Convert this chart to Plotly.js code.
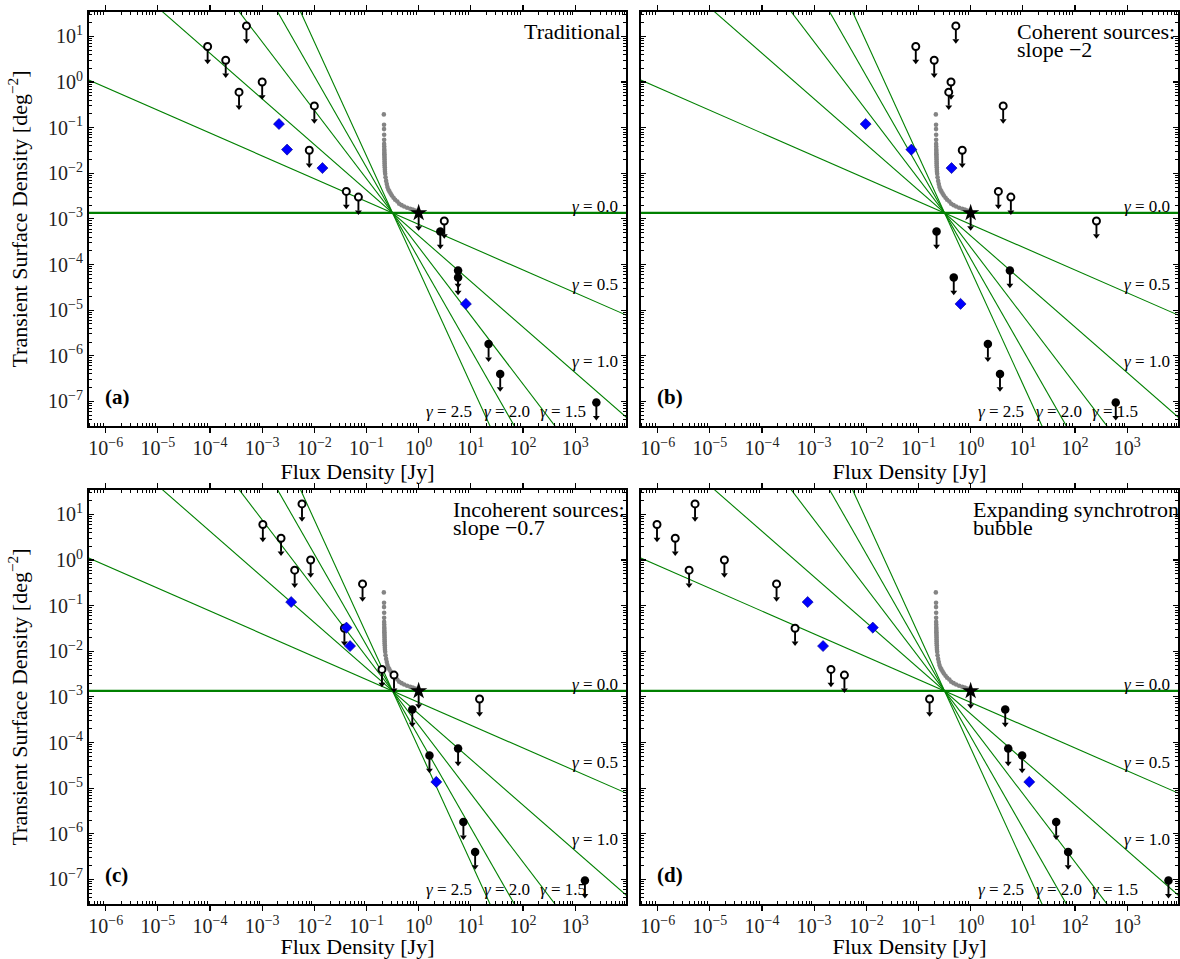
<!DOCTYPE html>
<html><head><meta charset="utf-8">
<script src="https://cdn.plot.ly/plotly-3.0.1.min.js"></script>
<style>html,body{margin:0;padding:0;background:#fff}#chart{width:1180px;height:959px}</style>
</head><body><div id="chart"></div><script>
// ---------- data ----------
const gammas = [0, 0.5, 1.0, 1.5, 2.0, 2.5];
const gammaLabels = ['<i>γ</i> = 0.0', '<i>γ</i> = 0.5', '<i>γ</i> = 1.0', '<i>γ</i> = 1.5', '<i>γ</i> = 2.0', '<i>γ</i> = 2.5'];
const pivotS = 0.316, pivotN = 1.35e-3;

const grayS = [0.215,0.217,0.217,0.218,0.218,0.218,0.219,
  0.219,0.22,0.22,0.22,0.221,0.221,0.222,0.222,0.223,0.223,0.224,0.225,0.226,0.228,
  0.232,0.238,0.245,0.252,0.262,0.275,0.29,0.306,0.33,0.354,0.39,0.423,0.47,0.527,0.6,0.687,0.77,0.857,0.93,0.99];
const grayN = [0.195,0.116,0.093,0.070,0.054,0.044,0.0387,
  0.034,0.031,0.028,0.026,0.024,0.022,0.020,0.018,0.0165,0.015,0.0135,0.012,0.0108,0.0097,
  0.0082,0.0068,0.0058,0.0050,0.0044,0.0040,0.0036,0.00326,0.0029,0.00263,0.0024,0.00214,0.002,0.00187,0.00175,0.00167,0.0016,0.00153,0.00148,0.00143];

const openN   = [6.0, 3.0, 17, 0.6, 1.0, 0.30, 0.032, 0.004, 0.003, 9e-4];
const openS_a = [9e-5, 2.0e-4, 5.0e-4, 3.6e-4, 1.0e-3, 0.010, 8.0e-3, 0.041, 0.070, 3.1];
const openS_b = [0.0887, 0.20, 0.52, 0.38, 0.42, 4.2, 0.69, 3.4, 5.9, 258];
const openS_c = [1.03e-3, 2.3e-3, 5.8e-3, 4.2e-3, 8.5e-3, 0.084, 0.0377, 0.198, 0.337, 14.7];
const openS_d = [9.7e-7, 2.17e-6, 5.2e-6, 4.0e-6, 1.9e-5, 1.9e-4, 4.3e-4, 2.1e-3, 3.8e-3, 0.163];

const filledN   = [5.3e-4, 7.4e-5, 5.2e-5, 1.8e-6, 4.0e-7, 9.4e-8];
const filledS_a = [2.6, 5.7, 5.7, 21.9, 36.6, 2550];
const filledS_b = [0.222, 5.65, 0.474, 2.14, 3.65, 605];
const filledS_c = [0.755, 5.7, 1.61, 7.2, 12.1, 1540];
const filledS_d = [4.6, 5.25, 9.7, 43.6, 74, 6200];

const detN   = [0.12, 0.033, 0.013, 1.37e-5];
const detS_a = [2.1e-3, 3.0e-3, 0.0143, 8.05];
const detS_b = [9.7e-3, 0.073, 0.43, 0.64];
const detS_c = [3.6e-3, 0.0413, 0.0484, 2.18];
const detS_d = [7.5e-4, 0.0133, 1.48e-3, 13.3];

const starS = [1.0], starN = [1.35e-3];

const panelLetters = ['(a)', '(b)', '(c)', '(d)'];
const panelNotes = [['Traditional'], ['Coherent sources:', 'slope −2'], ['Incoherent sources:', 'slope −0.7'], ['Expanding synchrotron', 'bubble']];

const xTickVals = [1e-6,1e-5,1e-4,1e-3,1e-2,1e-1,1e0,1e1,1e2,1e3];
const xTickText = ['10<sup>−6</sup>','10<sup>−5</sup>','10<sup>−4</sup>','10<sup>−3</sup>','10<sup>−2</sup>','10<sup>−1</sup>','10<sup>0</sup>','10<sup>1</sup>','10<sup>2</sup>','10<sup>3</sup>'];
const yTickVals = [1e-7,1e-6,1e-5,1e-4,1e-3,1e-2,1e-1,1e0,1e1];
const yTickText = ['10<sup>−7</sup>','10<sup>−6</sup>','10<sup>−5</sup>','10<sup>−4</sup>','10<sup>−3</sup>','10<sup>−2</sup>','10<sup>−1</sup>','10<sup>0</sup>','10<sup>1</sup>'];

// ---------- layout constants ----------
const FONT = 'Liberation Serif, Times New Roman, serif';
const xRange = [-6.32, 3.975], yRange = [-7.54, 1.535];
const W = 1180, H = 959, M = {l: 89, r: 2, t: 12, b: 55};
const plotW = W - M.l - M.r, plotH = H - M.t - M.b;
const panelWpx = 537, panelHpx = 414;
const decPerPx = (yRange[1] - yRange[0]) / panelHpx;
const stemFactor = Math.pow(10, -13.5 * decPerPx);
const headFactor = Math.pow(10, -14.8 * decPerPx);

const panels = [
  {open: openS_a, filled: filledS_a, det: detS_a},
  {open: openS_b, filled: filledS_b, det: detS_b},
  {open: openS_c, filled: filledS_c, det: detS_c},
  {open: openS_d, filled: filledS_d, det: detS_d}
];

const xDomL = [0, panelWpx / plotW], xDomR = [1 - panelWpx / plotW, 1];
const yDomT = [1 - panelHpx / plotH, 1], yDomB = [0, panelHpx / plotH];

const traces = [];
const annotations = [];
const layout = {
  width: W, height: H, margin: M, showlegend: false,
  paper_bgcolor: '#fff', plot_bgcolor: '#fff',
  font: {family: FONT, color: '#000', size: 18}
};

function minorVals(lo, hi) {
  const v = [];
  for (let d = lo; d <= hi; d++) for (let k = 2; k <= 9; k++) v.push(k * Math.pow(10, d));
  return v;
}

panels.forEach((p, i) => {
  const n = i + 1;
  const xa = n === 1 ? 'x' : 'x' + n, ya = n === 1 ? 'y' : 'y' + n;
  const xk = n === 1 ? 'xaxis' : 'xaxis' + n, yk = n === 1 ? 'yaxis' : 'yaxis' + n;
  const left = (i % 2 === 0), top = (i < 2);

  layout[xk] = {
    type: 'log', range: xRange, domain: left ? xDomL : xDomR, anchor: ya,
    tickmode: 'array', tickvals: xTickVals, ticktext: xTickText,
    ticks: 'outside', ticklen: 5, tickwidth: 1.2, tickcolor: '#000', ticklabelstandoff: -2,
    minor: {tickmode: 'array', tickvals: minorVals(-7, 4), ticks: 'inside', ticklen: 3, tickwidth: 1, tickcolor: '#000'},
    showline: true, linewidth: 2, linecolor: '#000', mirror: 'ticks',
    showgrid: false, zeroline: false,
    tickfont: {family: FONT, size: 20, color: '#222'},
    title: {text: 'Flux Density [Jy]', font: {family: FONT, size: 22, color: '#000'}, standoff: 2}
  };
  layout[yk] = {
    type: 'log', range: yRange, domain: top ? yDomT : yDomB, anchor: xa,
    tickmode: 'array', tickvals: yTickVals, ticktext: yTickText,
    ticks: 'inside', ticklen: 5, tickwidth: 1.2, tickcolor: '#000',
    minor: {tickmode: 'array', tickvals: minorVals(-8, 1), ticks: 'inside', ticklen: 3, tickwidth: 1, tickcolor: '#000'},
    showline: true, linewidth: 2, linecolor: '#000', mirror: 'ticks',
    showgrid: false, zeroline: false, showticklabels: left,
    tickfont: {family: FONT, size: 20, color: '#222'},
    title: left ? {text: 'Transient Surface Density [deg<sup>−2</sup>]', font: {family: FONT, size: 22, color: '#000'}, standoff: 14} : {text: ''}
  };

  // gray curve
  traces.push({type: 'scatter', mode: 'markers', x: grayS, y: grayN, xaxis: xa, yaxis: ya,
    marker: {color: '#848484', size: 4.6, line: {width: 0}}, hoverinfo: 'skip'});

  // gamma lines
  const sLo = Math.pow(10, xRange[0] - 0.05), sHi = Math.pow(10, xRange[1] + 0.05);
  gammas.forEach((g) => {
    traces.push({type: 'scatter', mode: 'lines', xaxis: xa, yaxis: ya,
      x: [sLo, sHi], y: [pivotN * Math.pow(sLo / pivotS, -g), pivotN * Math.pow(sHi / pivotS, -g)],
      line: {color: '#008000', width: g === 0 ? 2.2 : 1.1}, hoverinfo: 'skip'});
  });

  // arrowheads for all upper limits
  const limS = p.open.concat(p.filled, starS);
  const limN = openN.concat(filledN, starN);
  traces.push({type: 'scatter', mode: 'markers', xaxis: xa, yaxis: ya,
    x: limS, y: limN.map(v => v * headFactor),
    marker: {symbol: 'triangle-down', size: 6, color: '#000', line: {width: 0}}, hoverinfo: 'skip'});

  const stem = (arr) => ({type: 'data', symmetric: false, array: arr.map(() => 0),
    arrayminus: arr.map(v => v - v * stemFactor), color: '#000', thickness: 1.9, width: 0});

  // open circles (upper limits)
  traces.push({type: 'scatter', mode: 'markers', xaxis: xa, yaxis: ya, x: p.open, y: openN,
    error_y: stem(openN),
    marker: {symbol: 'circle', size: 7, color: '#fff', line: {color: '#000', width: 2}}});
  // filled circles (upper limits)
  traces.push({type: 'scatter', mode: 'markers', xaxis: xa, yaxis: ya, x: p.filled, y: filledN,
    error_y: stem(filledN),
    marker: {symbol: 'circle', size: 8.5, color: '#000', line: {width: 0}}});
  // star
  traces.push({type: 'scatter', mode: 'markers', xaxis: xa, yaxis: ya, x: starS, y: starN,
    error_y: stem(starN),
    marker: {symbol: 'star', size: 13, color: '#000', line: {width: 0}}});
  // detections
  traces.push({type: 'scatter', mode: 'markers', xaxis: xa, yaxis: ya, x: p.det, y: detN,
    marker: {symbol: 'diamond', size: 8.5, color: '#0000ff', line: {color: '#00008b', width: 0.6}}});

  // annotations
  const xr = xa + ' domain', yr = ya + ' domain';
  annotations.push({xref: xr, yref: yr, x: 0.026, y: 0.071, xanchor: 'left', yanchor: 'middle',
    text: '<b>' + panelLetters[i] + '</b>', showarrow: false, font: {family: FONT, size: 21, color: '#000'}});
  const notes = panelNotes[i];
  const noteX = [0.995, 0.6965, 0.6736, 0.614][i];
  const noteY = [0.953, 0.909];
  notes.forEach((t, k) => {
    annotations.push({xref: xr, yref: yr, x: noteX, y: noteY[k], xanchor: i === 0 ? 'right' : 'left', yanchor: 'middle',
      text: t, showarrow: false, font: {family: FONT, size: 22, color: '#000'}});
  });
  const gPos = [[0.988, 0.529, 'right'], [0.988, 0.3406, 'right'], [0.988, 0.155, 'right'],
                [0.883, 0.0345, 'center'], [0.778, 0.0345, 'center'], [0.670, 0.0345, 'center']];
  gammaLabels.forEach((t, k) => {
    annotations.push({xref: xr, yref: yr, x: gPos[k][0], y: gPos[k][1], xanchor: gPos[k][2], yanchor: 'middle',
      text: t, showarrow: false, font: {family: FONT, size: 17, color: '#000'}});
  });
});

layout.annotations = annotations;
Plotly.newPlot('chart', traces, layout, {displayModeBar: false, staticPlot: true});
</script></body></html>
